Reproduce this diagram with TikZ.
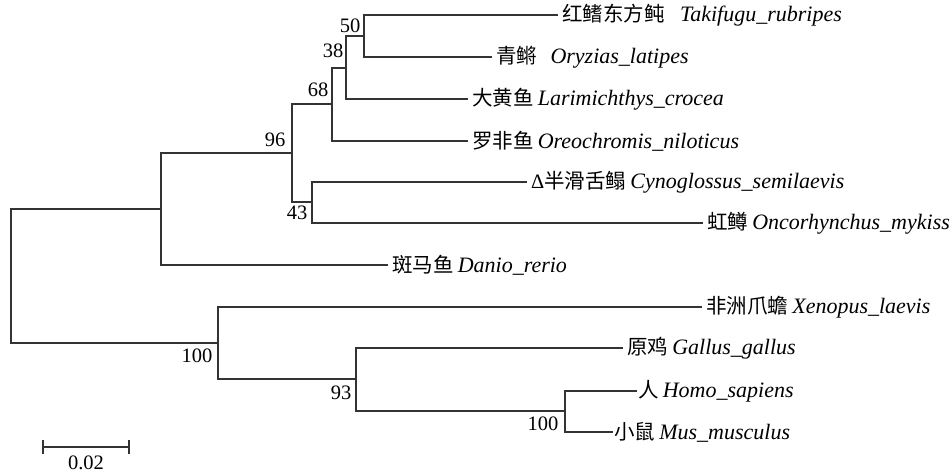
\documentclass[tikz,border=0pt]{standalone}
\usepackage{fontspec}
\setmainfont{Liberation Serif}
\newfontfamily\cjk{Noto Sans CJK SC}
\newcommand\spn[1]{{\fontsize{22}{24}\selectfont\itshape #1}}
\begin{document}
\begin{tikzpicture}[x=1pt,y=-1pt,
  tree/.style={draw=black!80,line width=1.3pt},
  leaf/.style={anchor=west,inner xsep=4pt,inner ysep=0pt,font=\fontsize{20.5}{22}\selectfont},
  bs/.style={inner sep=0pt,font=\fontsize{20.5}{22}\selectfont}]
\useasboundingbox (0,0) rectangle (952,474);
% leaves
\node[leaf] (tak) at (558,15) {{\cjk 红鳍东方鲀}\hspace{0.75em}\spn{Takifugu\_rubripes}};
\node[leaf] (ory) at (492,57) {{\cjk 青鳉}\hspace{0.65em}\spn{Oryzias\_latipes}};
\node[leaf] (lar) at (468,99) {{\cjk 大黄鱼}\hspace{0.2em}\spn{Larimichthys\_crocea}};
\node[leaf] (ore) at (468,141) {{\cjk 罗非鱼}\hspace{0.2em}\spn{Oreochromis\_niloticus}};
\node[leaf] (cyn) at (527,182) {Δ{\cjk 半滑舌鳎}\hspace{0.2em}\spn{Cynoglossus\_semilaevis}};
\node[leaf] (onc) at (703,223) {{\cjk 虹鳟}\hspace{0.2em}\spn{Oncorhynchus\_mykiss}};
\node[leaf] (dan) at (388,265) {{\cjk 斑马鱼}\hspace{0.2em}\spn{Danio\_rerio}};
\node[leaf] (xen) at (702,307) {{\cjk 非洲爪蟾}\hspace{0.2em}\spn{Xenopus\_laevis}};
\node[leaf] (gal) at (623,348) {{\cjk 原鸡}\hspace{0.2em}\spn{Gallus\_gallus}};
\node[leaf,inner xsep=1pt] (hom) at (637,391) {{\cjk 人}\hspace{0.2em}\spn{Homo\_sapiens}};
\node[leaf,inner xsep=1pt] (mus) at (613,432) {{\cjk 小鼠}\hspace{0.2em}\spn{Mus\_musculus}};
% internal nodes
\coordinate (n50) at (364,36);
\coordinate (n38) at (346,68);
\coordinate (n68) at (332,104);
\coordinate (n43) at (312,202);
\coordinate (n96) at (292,153);
\coordinate (nfish) at (161,209);
\coordinate (root) at (11,276);
\coordinate (n100a) at (218,343);
\coordinate (n93) at (356,379);
\coordinate (n100b) at (565,411);
% branches
\draw[tree] (n50) |- (tak.west);
\draw[tree] (n50) |- (ory.west);
\draw[tree] (n38) |- (n50);
\draw[tree] (n38) |- (lar.west);
\draw[tree] (n68) |- (n38);
\draw[tree] (n68) |- (ore.west);
\draw[tree] (n43) |- (cyn.west);
\draw[tree] (n43) |- (onc.west);
\draw[tree] (n96) |- (n68);
\draw[tree] (n96) |- (n43);
\draw[tree] (nfish) |- (n96);
\draw[tree] (nfish) |- (dan.west);
\draw[tree] (root) |- (nfish);
\draw[tree] (root) |- (n100a);
\draw[tree] (n100a) |- (xen.west);
\draw[tree] (n100a) |- (n93);
\draw[tree] (n93) |- (gal.west);
\draw[tree] (n93) |- (n100b);
\draw[tree] (n100b) |- (hom.west);
\draw[tree] (n100b) |- (mus.west);
% bootstrap values
\node[bs] (b50) at (350,26) {50};
\node[bs] (b38) at (333,51) {38};
\node[bs] (b68) at (318,90) {68};
\node[bs] (b96) at (275,140) {96};
\node[bs] (b43) at (297,213) {43};
\node[bs] (b100a) at (197,356) {100};
\node[bs] (b93) at (341,393) {93};
\node[bs] (b100b) at (543,424) {100};
% scale bar
\coordinate (sa) at (43,447);
\coordinate (sb) at (129,447);
\draw[tree] (sa) -- (sb);
\draw[tree] ([yshift=-7pt]sa) -- ([yshift=7pt]sa);
\draw[tree] ([yshift=-7pt]sb) -- ([yshift=7pt]sb);
\node[bs] (sl) at (86,463) {0.02};
\end{tikzpicture}
\end{document}
